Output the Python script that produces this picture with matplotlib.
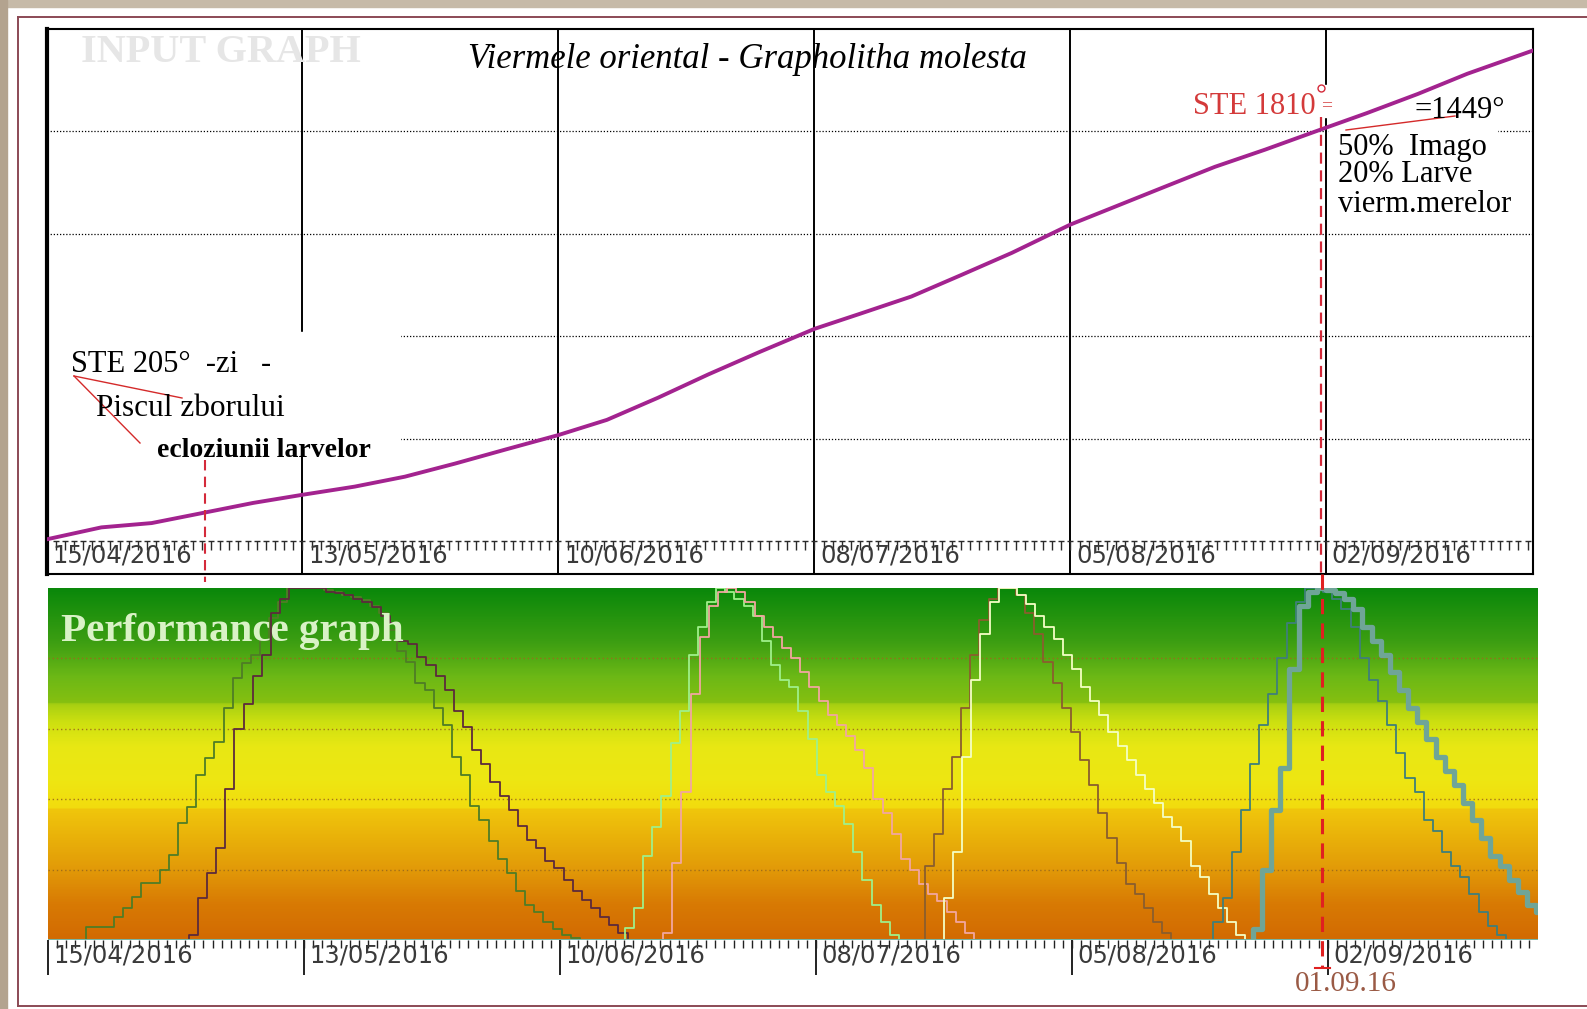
import matplotlib
matplotlib.use('Agg')
import matplotlib.pyplot as plt
import numpy as np
from matplotlib.colors import LinearSegmentedColormap
from matplotlib.lines import Line2D
from matplotlib.patches import Rectangle

W, H = 1587, 1009

# axa timpului: zile de la 15/04/2016
tick_days = [0, 28, 56, 84, 112, 140]
tick_labels = ['15/04/2016', '13/05/2016', '10/06/2016',
               '08/07/2016', '05/08/2016', '02/09/2016']

# suma temperaturilor efective (STE), grafic de intrare
ste_days = [0, 6, 11.5, 17, 22.6, 28, 33.7, 39.2, 44.7, 50.3, 56, 61.3, 66.9,
            72.4, 78, 84, 89, 94.6, 100, 105.6, 112, 116.7, 122.2, 127.8,
            133.3, 139.4, 144.4, 150, 155.4, 162.6]
ste_vals = [7, 60, 79, 123, 168, 204, 240, 284, 342, 405, 468, 535, 633, 736,
            835, 937, 1004, 1080, 1174, 1273, 1398, 1474, 1563, 1653, 1729,
            1818, 1890, 1975, 2064, 2167]
ste_grid = [452.5, 905, 1357.5, 1810]

peak_day = 17.3    # STE 205 - ecloziunea larvelor
mark_day = 139.4   # 01.09.16 - STE 1810

# grafic de performanta: valori zilnice (%), fiecare cu ziua de start
c1_start = 4.2
c1 = [3.8, 3.8, 3.8, 6.6, 9, 12.3, 16.1, 16.1, 19.9, 24.1, 33.1, 37.9, 46.9,
      51.6, 56.3, 65.8, 74.3, 78.6, 81, 85.2, 91.4, 96, 100, 100, 100, 100,
      99.5, 99, 98, 97.5, 96.5, 95, 93, 88, 82, 79, 73, 71, 66, 61, 52, 47,
      38, 34, 28, 23, 19, 14, 10, 8, 5, 3, 1.5, 0.5]
c2_start = 15.4
c2 = [1.4, 12, 19, 26, 43, 60, 67, 75, 81, 93, 97, 100, 100, 100, 100, 99,
      98.5, 98, 97, 96, 94.5, 92, 90, 85, 84, 80.5, 78, 75, 71, 65, 60.5, 54,
      50, 45, 41, 37, 32.5, 28.5, 26, 22.5, 20.5, 17, 14, 11.5, 9, 6.5, 4.3, 2]
c3_start = 63.1
c3 = [3.5, 9, 24, 32, 41, 56, 65, 81, 89, 96, 100, 99, 97, 95, 92, 85, 78, 74,
      72, 65, 57, 47, 42, 38, 33, 25, 17, 10, 5, 1.5]
c4_start = 67.3
c4 = [2, 22, 42, 70, 86, 95, 99, 100, 99, 96, 92, 89, 86, 83, 80, 76, 72, 68,
      64, 61, 58, 54, 49, 40, 36, 30, 23, 20, 16, 13, 11, 8, 5, 2]
c5_start = 95.9
c5 = [21, 30, 43, 52, 66, 81, 91, 97, 100, 100, 98, 93, 87, 79, 73, 66, 59, 51,
      44, 36, 29, 22, 16, 13, 9, 5, 2]
c6_start = 98.0
c6 = [12, 25, 52, 74, 87, 96, 100, 100, 98, 95.5, 92, 89, 85.5, 81, 77, 72, 68,
      64, 59, 55, 51, 47, 43, 39, 35, 32, 28, 21, 18, 13, 9, 5, 1.5]
c7_start = 127.5
c7 = [5, 12, 25, 37, 50, 61, 70, 80, 90, 96, 100, 100, 99, 97, 94, 89, 80, 74,
      68, 61, 53, 46, 42, 34, 31, 25, 21, 18, 13, 8, 4, 1.5]
c8_start = 131.8
c8 = [3, 20, 37, 49, 77, 95, 99, 100, 99.5, 98.5, 97, 94, 89, 85, 81, 76, 71,
      66, 62, 57, 52, 48, 44, 39, 34, 29, 24, 21, 17, 13.5, 10, 8]
perf_grid = [20, 40, 60, 80]

serif = 'Liberation Serif'
fig = plt.figure(figsize=(W / 100, H / 100), dpi=100)
fig.patch.set_facecolor('white')


def fx(x):
    return x / W


def fy(y):
    return 1 - y / H


# rama
fig.patches.append(Rectangle((0, fy(7)), 1, 7 / H, transform=fig.transFigure,
                             color='#c6baa8', zorder=0))
fig.patches.append(Rectangle((0, 0), 7 / W, 1, transform=fig.transFigure,
                             color='#b3a38f', zorder=0))
for xs, ys in [([18, W], [17, 17]), ([18, 18], [17, 1006]), ([18, W], [1006, 1006])]:
    fig.add_artist(Line2D([fx(v) for v in xs], [fy(v) for v in ys],
                          color='#8b4a55', lw=1.4))

# ---------------- INPUT GRAPH ----------------
ax1 = fig.add_axes([fx(46.5), fy(574), (1533 - 46.5) / W, (574 - 29) / H])
ax1.set_xlim(0, 162.6)
ax1.set_ylim(-146, 2262)
ax1.set_xticks([])
ax1.set_yticks([])
for s in ax1.spines.values():
    s.set_linewidth(1.5)
    s.set_color('black')
ax1.spines['left'].set_linewidth(3)

for v in ste_grid:
    ax1.axhline(v, color='black', lw=0.9, ls=(0, (1, 1.5)), zorder=1)
for d in tick_days[1:]:
    ax1.axvline(d, color='black', lw=1.4, zorder=1)

ax1.add_patch(Rectangle((0.2, 380), 38.5, 545, color='white', zorder=2))
ax1.add_patch(Rectangle((140.3, 1410), 18.4, 450, color='white', zorder=2))
ax1.add_patch(Rectangle((124.5, 1874), 15.9, 141, color='white', zorder=2))

days = np.arange(1, 163)
ax1.vlines(days, -38, 0, color='#2a2a2a', lw=1, zorder=3)
ax1.plot(days, np.zeros(len(days)), ls='none', marker='_', ms=4, mew=1,
         color='#2a2a2a', zorder=3)
for d, lab in zip(tick_days, tick_labels):
    ax1.text(d + 0.6, -66, lab, fontsize=17.5, family='DejaVu Sans',
             color='#3a3a3a', va='center', ha='left', zorder=4)

ax1.plot(ste_days, ste_vals, color='#a3238f', lw=2.8, zorder=6)

ax1.plot([peak_day, peak_day], [358, -181], color='#d42a3a', lw=1.5,
         ls=(0, (5, 3)), clip_on=False, zorder=7)
ax1.plot([mark_day, mark_day], [1874, -146], color='#d42a3a', lw=1.6,
         ls=(0, (5, 3)), zorder=7)
ax1.plot(mark_day, 2000, 'o', mfc='white', mec='#d42a3a', ms=5, zorder=7)

fig.text(fx(81), fy(53), 'INPUT GRAPH', fontsize=29, weight='bold',
         family=serif, color='#e6e6e6', ha='left', va='center')
fig.text(fx(747), fy(59), 'Viermele oriental - Grapholitha molesta',
         fontsize=25, style='italic', family=serif, ha='center', va='center')

fig.text(fx(71), fy(364), 'STE 205°  -zi   -', fontsize=22, family=serif,
         va='center')
fig.text(fx(96), fy(408), 'Piscul zborului', fontsize=22.5, family=serif,
         va='center')
fig.text(fx(157), fy(451), 'ecloziunii larvelor', fontsize=20, family=serif,
         weight='bold', va='center')
for x2, y2 in [(182, 398), (140, 443)]:
    fig.add_artist(Line2D([fx(74), fx(x2)], [fy(376), fy(y2)],
                          color='#d42a2a', lw=1))

fig.text(fx(1316), fy(106), 'STE 1810', fontsize=22, family=serif,
         color='#d43a3a', ha='right', va='center')
fig.text(fx(1327), fy(106), '=', fontsize=14, family=serif,
         color='#d43a3a', ha='center', va='center')
fig.text(fx(1415), fy(110), '=1449°', fontsize=22, family=serif, va='center')
fig.add_artist(Line2D([fx(1346), fx(1455)], [fy(130), fy(116)],
                      color='#d42a2a', lw=1))
for yy, txt in [(147, '50%  Imago'), (175, '20% Larve'), (204, 'vierm.merelor')]:
    fig.text(fx(1338), fy(yy), txt, fontsize=22, family=serif, va='center')

# ---------------- Performance graph ----------------
ax2 = fig.add_axes([fx(48), fy(940), (1538 - 48) / W, (940 - 588) / H])
ax2.set_xlim(0, 163)
ax2.set_ylim(0, 100)
ax2.axis('off')

grad = LinearSegmentedColormap.from_list('perf', [
    (0.00, '#d26a02'), (0.10, '#d87a04'), (0.20, '#e29a08'),
    (0.30, '#eab40a'), (0.37, '#f0c60c'), (0.375, '#f2dc0e'),
    (0.45, '#eee612'), (0.55, '#e8e814'), (0.62, '#cde010'),
    (0.67, '#a8d012'), (0.675, '#86c010'), (0.75, '#6cb816'),
    (0.85, '#3c9e12'), (1.00, '#0a880a')])
ax2.imshow(np.linspace(0, 1, 400).reshape(-1, 1), extent=[0, 163, 0, 100],
           origin='lower', aspect='auto', cmap=grad, zorder=0,
           interpolation='bilinear')
for v in perf_grid:
    ax2.axhline(v, color='#9c6a1c', lw=1, ls=(0, (1, 2)), alpha=0.9, zorder=1)

curves = [(c1_start, c1, '#4f7d26', 1.3), (c2_start, c2, '#5c2a3c', 1.3),
          (c3_start, c3, '#9ff08a', 1.3), (c4_start, c4, '#f2a6a0', 1.3),
          (c5_start, c5, '#8a5e2e', 1.3), (c6_start, c6, '#f4ffc4', 1.3),
          (c7_start, c7, '#3f7f7a', 1.3), (c8_start, c8, '#6fa597', 3.8)]
for start, vals, col, lw in curves:
    xs = np.concatenate([[start], start + np.arange(len(vals) + 1)])
    ys = np.concatenate([[0], vals, [0]])
    ax2.plot(xs, ys, drawstyle='steps-post', color=col, lw=lw, zorder=4)

ax2.axhline(0, color='#78b4a4', lw=2.2, zorder=6)
ax2.vlines(days, -2.2, 0, color='#222222', lw=1, clip_on=False)
ax2.vlines(tick_days, -10, 0, color='#222222', lw=1.4, clip_on=False)
for d, lab in zip(tick_days, tick_labels):
    ax2.text(d + 0.6, -4.5, lab, fontsize=17.5, family='DejaVu Sans',
             color='#3a3a3a', va='center', ha='left')

ax2.plot([mark_day, mark_day], [104, -8], color='#e02020', lw=2.2,
         ls=(0, (5, 3)), clip_on=False, zorder=8)
ax2.plot([mark_day - 0.8, mark_day + 0.8], [-8, -8], color='#e02020', lw=1.5,
         clip_on=False, zorder=8)

fig.text(fx(61), fy(631), 'Performance graph', fontsize=29.5, weight='bold',
         family=serif, color='#d9f2c6', va='center')
fig.text(fx(1346), fy(984), '01.09.16', fontsize=21, family=serif,
         color='#9a5a45', ha='center', va='center')

fig.savefig('out.png', dpi=100)
